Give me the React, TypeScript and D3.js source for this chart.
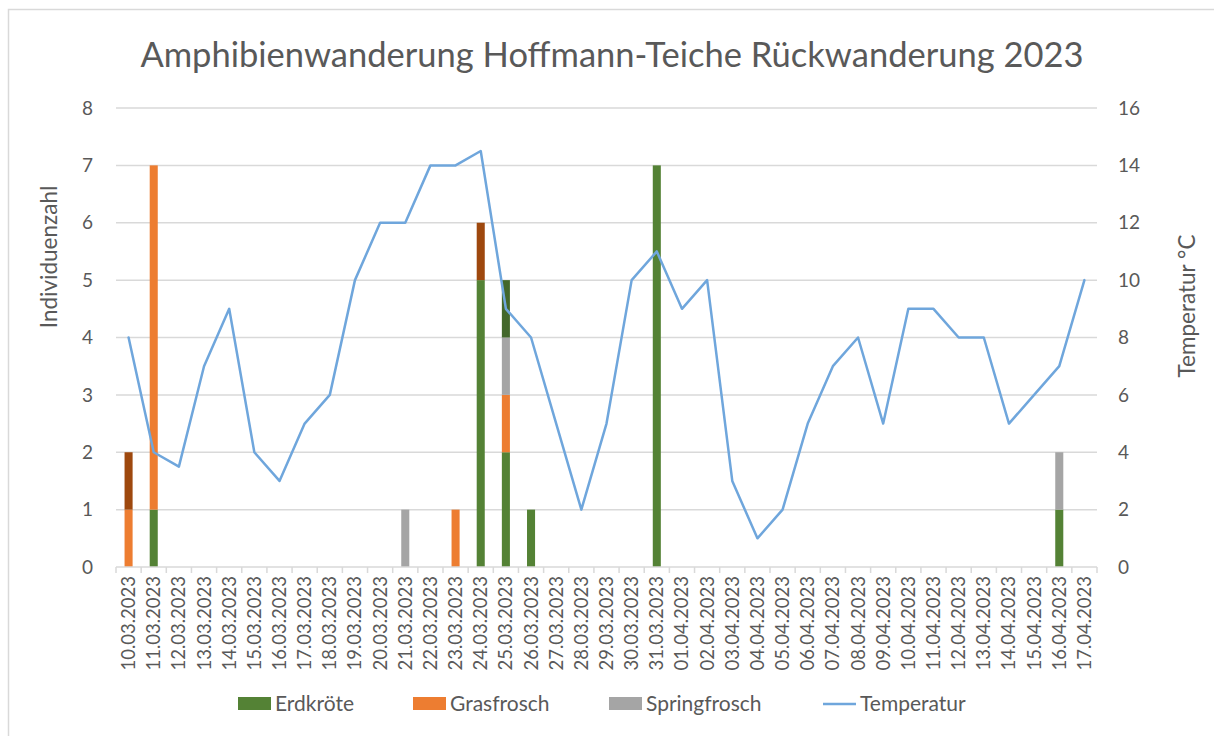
import { useEffect, useRef } from 'react';
import * as d3 from 'd3';

const dates = [
  '10.03.2023', '11.03.2023', '12.03.2023', '13.03.2023', '14.03.2023', '15.03.2023',
  '16.03.2023', '17.03.2023', '18.03.2023', '19.03.2023', '20.03.2023', '21.03.2023',
  '22.03.2023', '23.03.2023', '24.03.2023', '25.03.2023', '26.03.2023', '27.03.2023',
  '28.03.2023', '29.03.2023', '30.03.2023', '31.03.2023', '01.04.2023', '02.04.2023',
  '03.04.2023', '04.04.2023', '05.04.2023', '06.04.2023', '07.04.2023', '08.04.2023',
  '09.04.2023', '10.04.2023', '11.04.2023', '12.04.2023', '13.04.2023', '14.04.2023',
  '15.04.2023', '16.04.2023', '17.04.2023',
];

const erdkroete = [0, 1, 0, 0, 0, 0, 0, 0, 0, 0, 0, 0, 0, 0, 5, 2, 1, 0, 0, 0, 0, 7, 0, 0, 0, 0, 0, 0, 0, 0, 0, 0, 0, 0, 0, 0, 0, 1, 0];
const grasfrosch = [1, 6, 0, 0, 0, 0, 0, 0, 0, 0, 0, 0, 0, 1, 0, 1, 0, 0, 0, 0, 0, 0, 0, 0, 0, 0, 0, 0, 0, 0, 0, 0, 0, 0, 0, 0, 0, 0, 0];
const springfrosch = [0, 0, 0, 0, 0, 0, 0, 0, 0, 0, 0, 1, 0, 0, 0, 1, 0, 0, 0, 0, 0, 0, 0, 0, 0, 0, 0, 0, 0, 0, 0, 0, 0, 0, 0, 0, 0, 1, 0];
// two further series that are not shown in the legend
const serieBraun = [1, 0, 0, 0, 0, 0, 0, 0, 0, 0, 0, 0, 0, 0, 1, 0, 0, 0, 0, 0, 0, 0, 0, 0, 0, 0, 0, 0, 0, 0, 0, 0, 0, 0, 0, 0, 0, 0, 0];
const serieDunkelgruen = [0, 0, 0, 0, 0, 0, 0, 0, 0, 0, 0, 0, 0, 0, 0, 1, 0, 0, 0, 0, 0, 0, 0, 0, 0, 0, 0, 0, 0, 0, 0, 0, 0, 0, 0, 0, 0, 0, 0];

const temperatur = [8, 4, 3.5, 7, 9, 4, 3, 5, 6, 10, 12, 12, 14, 14, 14.5, 9, 8, 5, 2, 5, 10, 11, 9, 10, 3, 1, 2, 5, 7, 8, 5, 9, 9, 8, 8, 5, 6, 7, 10];

const leftTicks = [0, 1, 2, 3, 4, 5, 6, 7, 8];
const rightTicks = [0, 2, 4, 6, 8, 10, 12, 14, 16];

const seriesKeys = ['Erdkröte', 'Grasfrosch', 'Springfrosch', 'Braun', 'Dunkelgrün'];
const seriesColors = ['#548235', '#ED7D31', '#A5A5A5', '#9E480E', '#43682B'];

const FONT = 'Lato, "Open Sans", sans-serif';
const TEXT = '#595959';
const GRID = '#D9D9D9';
const LINE = '#6FA6DC';

const App = () => {
  const svgRef = useRef(null);

  useEffect(() => {
    const width = 1214;
    const height = 736;
    const plot = { left: 116, right: 1097, top: 108, bottom: 567 };

    const svg = d3.select(svgRef.current).attr('width', width).attr('height', height);
    svg.selectAll('*').remove();

    svg.append('rect').attr('width', width).attr('height', height).attr('fill', '#fff');
    svg
      .append('rect')
      .attr('x', 8.5)
      .attr('y', 9.5)
      .attr('width', 1400)
      .attr('height', 900)
      .attr('fill', 'none')
      .attr('stroke', GRID)
      .attr('stroke-width', 1.5);

    const x = d3.scaleBand().domain(dates).range([plot.left, plot.right]).padding(0);
    const yL = d3.scaleLinear().domain([0, 8]).range([plot.bottom, plot.top]);
    const yR = d3.scaleLinear().domain([0, 16]).range([plot.bottom, plot.top]);

    // gridlines
    svg
      .append('g')
      .selectAll('line')
      .data(leftTicks.slice(1))
      .enter()
      .append('line')
      .attr('x1', plot.left)
      .attr('x2', plot.right)
      .attr('y1', (d) => yL(d))
      .attr('y2', (d) => yL(d))
      .attr('stroke', GRID)
      .attr('stroke-width', 1.5);

    // stacked bars
    const table = dates.map((d, i) => ({
      date: d,
      Erdkröte: erdkroete[i],
      Grasfrosch: grasfrosch[i],
      Springfrosch: springfrosch[i],
      Braun: serieBraun[i],
      Dunkelgrün: serieDunkelgruen[i],
    }));
    const stack = d3.stack().keys(seriesKeys)(table);
    const barW = x.bandwidth() * 0.32;

    svg
      .append('g')
      .selectAll('g')
      .data(stack)
      .enter()
      .append('g')
      .attr('fill', (d, i) => seriesColors[i])
      .selectAll('rect')
      .data((d) => d.filter((s) => s[1] - s[0] > 0))
      .enter()
      .append('rect')
      .attr('x', (d) => x(d.data.date) + x.bandwidth() / 2 - barW / 2)
      .attr('width', barW)
      .attr('y', (d) => yL(d[1]))
      .attr('height', (d) => yL(d[0]) - yL(d[1]));

    // x axis line and ticks
    const xAxis = svg.append('g');
    xAxis
      .append('line')
      .attr('x1', plot.left)
      .attr('x2', plot.right)
      .attr('y1', plot.bottom)
      .attr('y2', plot.bottom)
      .attr('stroke', GRID)
      .attr('stroke-width', 1.5);
    const boundaries = dates.map((d) => x(d)).concat([plot.right]);
    xAxis
      .selectAll('line.tick')
      .data(boundaries)
      .enter()
      .append('line')
      .attr('class', 'tick')
      .attr('x1', (d) => d)
      .attr('x2', (d) => d)
      .attr('y1', plot.bottom)
      .attr('y2', plot.bottom + 6)
      .attr('stroke', GRID)
      .attr('stroke-width', 1.5);
    xAxis
      .selectAll('text')
      .data(dates)
      .enter()
      .append('text')
      .attr('transform', (d) => `translate(${x(d) + x.bandwidth() / 2},${plot.bottom + 9}) rotate(-90)`)
      .attr('dy', '0.35em')
      .attr('text-anchor', 'end')
      .attr('fill', TEXT)
      .style('font-family', FONT)
      .style('font-size', '18.5px')
      .text((d) => d);

    // temperature line
    const line = d3
      .line()
      .x((d, i) => x(dates[i]) + x.bandwidth() / 2)
      .y((d) => yR(d));
    svg
      .append('path')
      .datum(temperatur)
      .attr('d', line)
      .attr('fill', 'none')
      .attr('stroke', LINE)
      .attr('stroke-width', 2.5)
      .attr('stroke-linejoin', 'round')
      .attr('stroke-linecap', 'round');

    // y axis labels
    svg
      .append('g')
      .selectAll('text')
      .data(leftTicks)
      .enter()
      .append('text')
      .attr('x', 93)
      .attr('y', (d) => yL(d))
      .attr('dy', '0.35em')
      .attr('text-anchor', 'end')
      .attr('fill', TEXT)
      .style('font-family', FONT)
      .style('font-size', '19px')
      .text((d) => d);

    svg
      .append('g')
      .selectAll('text')
      .data(rightTicks)
      .enter()
      .append('text')
      .attr('x', 1118)
      .attr('y', (d) => yR(d))
      .attr('dy', '0.35em')
      .attr('text-anchor', 'start')
      .attr('fill', TEXT)
      .style('font-family', FONT)
      .style('font-size', '19px')
      .text((d) => d);

    // axis titles
    svg
      .append('text')
      .attr('transform', 'translate(49,257) rotate(-90)')
      .attr('dy', '0.35em')
      .attr('text-anchor', 'middle')
      .attr('fill', TEXT)
      .style('font-family', FONT)
      .style('font-size', '22.5px')
      .text('Individuenzahl');
    svg
      .append('text')
      .attr('transform', 'translate(1187,306) rotate(-90)')
      .attr('dy', '0.35em')
      .attr('text-anchor', 'middle')
      .attr('fill', TEXT)
      .style('font-family', FONT)
      .style('font-size', '22.5px')
      .text('Temperatur °C');

    // title
    svg
      .append('text')
      .attr('x', 612)
      .attr('y', 67)
      .attr('text-anchor', 'middle')
      .attr('fill', TEXT)
      .style('font-family', FONT)
      .style('font-size', '34.5px')
      .text('Amphibienwanderung Hoffmann-Teiche Rückwanderung 2023');

    // legend
    const legend = [
      { label: 'Erdkröte', color: seriesColors[0], type: 'rect', x: 238 },
      { label: 'Grasfrosch', color: seriesColors[1], type: 'rect', x: 413 },
      { label: 'Springfrosch', color: seriesColors[2], type: 'rect', x: 609 },
      { label: 'Temperatur', color: LINE, type: 'line', x: 823 },
    ];
    const lg = svg.append('g').selectAll('g').data(legend).enter().append('g');
    lg.filter((d) => d.type === 'rect')
      .append('rect')
      .attr('x', (d) => d.x)
      .attr('y', 697)
      .attr('width', 33)
      .attr('height', 13)
      .attr('fill', (d) => d.color);
    lg.filter((d) => d.type === 'line')
      .append('line')
      .attr('x1', (d) => d.x)
      .attr('x2', (d) => d.x + 33)
      .attr('y1', 704)
      .attr('y2', 704)
      .attr('stroke', (d) => d.color)
      .attr('stroke-width', 2.5);
    lg.append('text')
      .attr('x', (d) => d.x + 37)
      .attr('y', 704)
      .attr('dy', '0.35em')
      .attr('fill', TEXT)
      .style('font-family', FONT)
      .style('font-size', '21px')
      .text((d) => d.label);
  }, []);

  return (
    <div style={{ position: 'absolute', left: 0, top: 0 }}>
      <svg ref={svgRef} style={{ display: 'block' }}></svg>
    </div>
  );
};

export default App;
